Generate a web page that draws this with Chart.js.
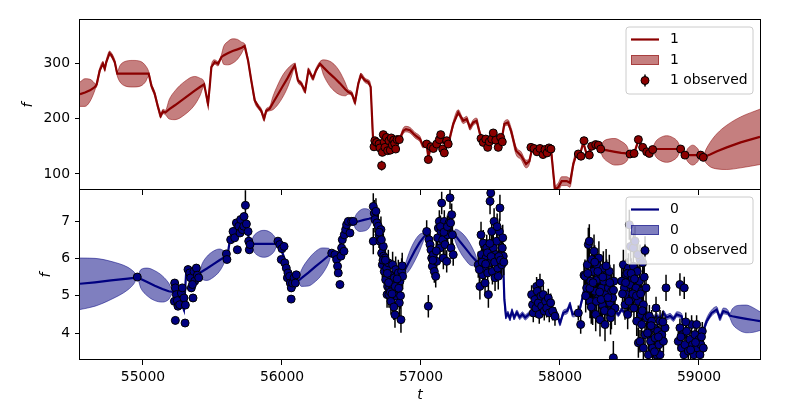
<!DOCTYPE html>
<html>
<head>
<meta charset="utf-8">
<script src="https://cdn.jsdelivr.net/npm/chart.js@4.4.0/dist/chart.umd.min.js"></script>
<style>
  body { margin: 0; background: #fff; }
  #wrap { position: relative; width: 800px; height: 400px; }
  canvas { position: absolute; left: 0; top: 0; }
</style>
</head>
<body>
<div id="wrap">
  <canvas id="bottomChart" width="800" height="400"></canvas>
  <canvas id="topChart" width="800" height="400"></canvas>
</div>
<script>
// shared time axis
const tMin = 54547, tMax = 59439;
const tTicks = [55000, 56000, 57000, 58000, 59000];
const f1Ticks = [100, 200, 300];
const f0Ticks = [4, 5, 6, 7];

// output "1": GP fit rows [t, mean, sd]
const fit1 = [
  [54547,244,22],[54583,247,25],[54619,251,20],[54648,256,9],[54658,258,4],[54667,262,4],
  [54689,287,4],[54712,299,4],[54725,290,4],[54736,302,4],[54760,318,4],[54772,315,4],
  [54797,302,4],[54815,281,4],[54835,281,15],[54870,281,22],[54928,281,24],[54985,281,22],
  [55020,281,14],[55041,281,4],[55060,260,4],[55084,245,4],[55108,221,4],[55127,205,4],
  [55144,213,4],[55161,211,4],[55190,217,18],[55230,224,26],[55300,237,30],[55370,250,26],
  [55410,257,16],[55440,262,4],[55468,227,4],[55480,257,4],[55492,293,4],[55516,302,4],
  [55540,299,4],[55564,311,4],[55580,314,16],[55610,318,21],[55645,322,22],[55680,325,18],
  [55710,328,10],[55731,331,4],[55756,305,4],[55779,269,4],[55804,233,4],[55828,222,4],
  [55851,214,4],[55871,200,4],[55887,214,4],[55912,218,4],[55935,228,12],[55970,243,18],
  [56002,257,20],[56040,273,17],[56070,287,10],[56092,296,4],[56115,269,4],[56139,263,4],
  [56166,250,4],[56191,287,4],[56223,273,4],[56245,287,4],[56274,299,4],[56300,292,14],
  [56340,282,22],[56375,274,24],[56415,264,21],[56455,253,12],[56477,248,4],[56502,245,4],
  [56525,230,4],[56549,263,4],[56568,278,4],[56597,269,4],[56621,266,4],[56638,257,4],
  [56657,154,3],[56680,157,3],[56720,152,3],[56760,155,3],[56800,156,3],[56844,162,3],
  [56873,178,5],[56892,181,5],[56921,179,5],[56957,170,5],[56993,163,5],[57015,151,4],
  [57041,152,3],[57053,130,3],[57072,150,3],[57100,152,3],[57140,158,3],[57196,155,3],
  [57232,190,5],[57268,211,5],[57304,196,5],[57329,199,5],[57353,184,5],[57376,193,5],
  [57400,196,5],[57424,173,4],[57450,160,3],[57490,158,3],[57530,163,3],[57560,158,3],
  [57580,162,3],[57600,190,5],[57625,193,5],[57648,178,6],[57684,142,7],[57720,133,7],
  [57756,118,7],[57780,123,5],[57800,146,3],[57840,144,3],[57880,142,3],[57935,145,3],
  [57964,72,6],[57988,76,8],[58012,87,8],[58048,87,8],[58072,84,8],[58096,118,6],
  [58120,136,4],[58144,136,3],[58168,156,3],[58192,136,3],[58216,142,3],[58240,151,3],
  [58288,145,3],[58310,144,14],[58350,142,21],[58396,140,24],[58440,138,21],[58480,137,14],
  [58504,136,3],[58533,137,3],[58564,160,3],[58595,148,3],[58624,140,3],[58643,137,3],
  [58667,145,3],[58690,145,14],[58725,145,21],[58768,145,24],[58810,145,21],[58845,145,14],
  [58868,145,3],[58899,134,3],[58920,134,12],[58955,134,18],[58990,134,12],[59012,134,3],
  [59031,130,3],[59050,132,12],[59080,135,22],[59130,141,32],[59200,148,40],[59300,157,46],
  [59439,167,50]
];

// output "1": observations [t, f, err]
const obs1 = [
  [56662,149,3],[56668,160,3],[56681,157,3],[56698,154,3],[56705,147,3],[56717,115,9],
  [56722,139,3],[56729,171,3],[56735,158,3],[56741,148,3],[56751,166,3],[56760,142,3],
  [56770,160,3],[56779,143,3],[56786,165,3],[56794,152,3],[56804,161,3],[56811,155,3],
  [56818,145,3],[56828,162,3],[56844,162,3],
  [57041,154,3],[57053,126,4],[57072,149,3],[57089,146,3],[57113,154,3],[57132,162,3],
  [57142,171,3],[57156,145,3],[57168,138,3],[57185,160,3],[57196,154,3],
  [57432,164,3],[57448,157,3],[57466,163,3],[57480,148,3],[57491,158,3],[57509,163,3],
  [57520,174,3],[57538,161,3],[57556,148,3],[57573,166,3],[57585,158,3],
  [57791,148,3],[57813,146,3],[57835,140,3],[57856,146,3],[57878,135,3],[57892,144,3],
  [57907,138,3],[57921,147,3],[57935,145,3],
  [58132,136,3],[58151,132,3],[58173,160,3],[58211,134,3],[58228,150,3],[58257,153,3],
  [58276,152,3],[58293,145,3],[58504,136,3],[58533,137,3],[58564,162,3],[58595,148,3],
  [58624,140,3],[58643,137,3],[58667,144,3],[58868,145,3],[58899,134,3],[59012,134,3],
  [59031,130,3]
];

// output "0": GP fit rows [t, mean, sd]
const fit0 = [
  [54547,5.32,0.69],[54655,5.36,0.64],[54770,5.41,0.51],[54892,5.46,0.30],[54935,5.48,0.16],
  [54959,5.50,0.04],[54985,5.45,0.25],[55030,5.37,0.37],[55085,5.27,0.40],[55140,5.18,0.35],
  [55185,5.12,0.22],[55215,5.10,0.04],[55252,4.99,0.05],[55276,4.85,0.05],[55295,4.63,0.05],
  [55312,5.70,0.05],[55336,5.65,0.05],[55360,5.52,0.05],[55384,5.55,0.05],[55408,5.61,0.04],
  [55425,5.65,0.20],[55460,5.73,0.32],[55505,5.84,0.35],[55550,5.95,0.30],[55580,6.02,0.18],
  [55600,6.06,0.04],[55604,5.97,0.04],[55624,6.46,0.05],[55648,6.77,0.05],[55672,6.86,0.05],
  [55708,7.04,0.05],[55732,7.12,0.05],[55744,6.90,0.05],[55761,6.55,0.05],[55775,6.39,0.04],
  [55795,6.39,0.20],[55830,6.39,0.32],[55870,6.39,0.36],[55910,6.39,0.32],[55945,6.39,0.20],
  [55966,6.39,0.04],[55995,6.23,0.05],[56020,5.97,0.05],[56043,5.65,0.05],[56067,5.30,0.05],
  [56087,5.21,0.05],[56103,5.30,0.05],[56115,5.39,0.04],[56140,5.47,0.22],[56190,5.62,0.36],
  [56240,5.78,0.40],[56290,5.93,0.35],[56335,6.07,0.20],[56358,6.14,0.04],[56381,6.10,0.05],
  [56405,5.97,0.05],[56417,6.32,0.05],[56429,6.55,0.05],[56453,6.72,0.05],[56477,6.95,0.05],
  [56513,6.95,0.04],[56530,6.97,0.18],[56560,7.00,0.28],[56590,7.03,0.30],[56625,7.06,0.25],
  [56657,7.10,0.04],[56670,7.20,0.05],[56681,6.90,0.05],[56705,6.46,0.05],[56729,6.01,0.05],
  [56753,5.74,0.05],[56777,5.48,0.05],[56801,5.39,0.05],[56825,5.48,0.05],[56849,5.56,0.05],
  [56873,5.61,0.04],[56890,5.73,0.15],[56920,5.95,0.25],[56955,6.20,0.27],[56990,6.42,0.22],
  [57015,6.55,0.12],[57034,6.63,0.04],[57058,6.46,0.05],[57077,6.10,0.05],[57101,6.10,0.05],
  [57125,6.55,0.05],[57149,6.90,0.05],[57173,6.85,0.05],[57209,6.90,0.05],[57232,6.68,0.04],
  [57250,6.60,0.18],[57285,6.43,0.28],[57322,6.26,0.31],[57360,6.08,0.27],[57390,5.96,0.16],
  [57412,5.88,0.04],[57430,5.92,0.05],[57470,6.00,0.05],[57520,6.12,0.05],[57560,6.15,0.05],
  [57590,6.00,0.05],[57600,4.90,0.06],[57612,4.45,0.07],[57625,4.52,0.07],[57640,4.40,0.07],
  [57655,4.58,0.07],[57670,4.42,0.07],[57690,4.55,0.07],[57710,4.43,0.07],[57730,4.50,0.07],
  [57750,4.42,0.07],[57770,4.48,0.07],[57790,4.55,0.06],[57830,4.60,0.05],[57880,4.62,0.05],
  [57930,4.55,0.05],[57976,4.54,0.06],[58000,4.27,0.07],[58024,4.54,0.07],[58052,4.59,0.07],
  [58072,4.76,0.07],[58091,4.50,0.07],[58120,4.54,0.07],[58144,4.67,0.07],[58180,5.21,0.06],
  [58200,5.10,0.05],[58250,4.95,0.05],[58300,4.80,0.05],[58350,4.65,0.05],[58397,4.59,0.05],
  [58420,4.50,0.06],[58444,4.63,0.06],[58468,4.54,0.06],[58500,4.68,0.05],[58550,4.65,0.05],
  [58600,4.55,0.05],[58648,4.50,0.06],[58672,4.40,0.07],[58696,4.46,0.07],[58720,4.38,0.07],
  [58744,4.54,0.07],[58768,4.42,0.07],[58792,4.46,0.07],[58816,4.38,0.07],[58840,4.50,0.07],
  [58876,4.45,0.07],[58887,4.14,0.07],[58935,3.70,0.06],[58990,3.60,0.06],[59007,3.72,0.06],
  [59031,4.05,0.07],[59055,4.32,0.08],[59091,4.54,0.08],[59127,4.63,0.08],[59151,4.41,0.08],
  [59175,4.59,0.08],[59211,4.54,0.06],[59220,4.47,0.04],[59240,4.45,0.20],[59280,4.42,0.32],
  [59340,4.38,0.37],[59390,4.35,0.33],[59439,4.32,0.25]
];

// output "0": observations [t, f, err]
const obs0 = [
  [54959,5.50,0.08],
  [55228,5.34,0.1],[55233,5.21,0.1],[55240,5.03,0.1],[55226,4.85,0.1],[55247,4.87,0.1],
  [55252,4.72,0.1],[55264,4.76,0.1],[55276,5.07,0.1],[55283,5.21,0.1],[55295,4.94,0.1],
  [55305,4.75,0.1],[55233,4.34,0.1],[55303,4.27,0.1],[55324,5.70,0.1],[55336,5.61,0.1],
  [55343,5.48,0.1],[55348,5.21,0.1],[55360,4.94,0.1],[55367,5.65,0.1],[55372,5.39,0.1],
  [55384,5.74,0.1],[55391,5.55,0.1],[55401,5.48,0.1],[55356,5.30,0.1],
  [55600,6.12,0.08],[55604,5.97,0.08],[55631,6.50,0.08],[55648,6.72,0.08],[55660,6.55,0.08],
  [55672,6.95,0.08],[55679,6.23,0.08],[55689,6.86,0.08],[55698,6.68,0.08],[55703,7.04,0.08],
  [55715,6.77,0.08],[55725,6.86,0.08],[55727,7.12,0.08],[55737,7.42,0.4],[55744,6.92,0.08],
  [55756,6.72,0.08],[55761,6.46,0.08],[55765,6.23,0.08],[55770,6.37,0.08],
  [55971,6.46,0.07],[55984,6.37,0.07],[55995,5.97,0.07],[56000,6.26,0.07],[56015,6.32,0.07],
  [56020,5.88,0.07],[56031,5.74,0.07],[56039,5.48,0.07],[56043,5.61,0.07],[56055,5.52,0.07],
  [56060,5.34,0.07],[56066,4.91,0.07],[56067,5.21,0.07],[56076,5.34,0.07],[56087,5.48,0.07],
  [56096,5.34,0.07],[56103,5.56,0.07],
  [56358,6.14,0.07],[56381,6.10,0.07],[56393,5.97,0.07],[56400,5.79,0.07],[56405,5.61,0.07],
  [56417,5.30,0.07],[56424,6.06,0.07],[56429,6.28,0.07],[56434,6.50,0.07],[56446,6.19,0.07],
  [56448,6.63,0.07],[56458,6.77,0.07],[56465,6.90,0.07],[56477,6.99,0.07],[56489,6.68,0.07],
  [56501,6.99,0.07],[56513,6.99,0.07],
  [56657,7.39,0.35],[56664,7.21,0.35],[56669,7.04,0.35],[56657,6.46,0.35],[56676,7.26,0.35],
  [56683,6.95,0.35],[56693,6.86,0.35],[56698,6.63,0.35],[56705,6.46,0.35],[56712,6.77,0.35],
  [56717,6.14,0.35],[56722,5.83,0.35],[56729,6.32,0.35],[56731,6.06,0.35],[56736,5.65,0.35],
  [56741,6.01,0.35],[56746,5.43,0.35],[56753,5.74,0.35],[56756,5.03,0.35],[56760,5.25,0.35],
  [56765,5.88,0.35],[56770,5.03,0.35],[56775,5.21,0.35],[56777,5.56,0.35],[56784,4.85,0.35],
  [56789,5.30,0.35],[56796,5.83,0.35],[56801,5.12,0.35],[56808,5.48,0.35],[56813,4.49,0.35],
  [56818,5.70,0.35],[56825,4.99,0.35],[56832,5.30,0.35],[56837,5.61,0.35],[56844,4.81,0.35],
  [56849,5.39,0.35],[56856,4.36,0.35],[56861,5.65,0.35],[56868,5.52,0.35],
  [56700,6.70,0.35],[56715,6.50,0.35],[56727,5.95,0.35],[56744,5.95,0.35],[56758,5.60,0.35],
  [56767,5.35,0.35],[56780,5.10,0.35],[56792,5.05,0.35],[56805,4.70,0.35],[56815,5.25,0.35],
  [56828,5.45,0.35],[56840,5.20,0.35],[56853,5.00,0.35],[56865,5.80,0.35],
  [57041,6.72,0.3],[57053,4.72,0.3],[57058,6.50,0.3],[57065,6.37,0.3],[57072,6.23,0.3],
  [57077,6.01,0.3],[57082,5.79,0.3],[57089,6.10,0.3],[57096,5.65,0.3],[57106,5.52,0.3],
  [57113,5.92,0.3],[57120,6.55,0.3],[57125,6.81,0.3],[57132,6.99,0.3],[57137,6.28,0.3],
  [57144,6.72,0.3],[57149,7.48,0.3],[57156,6.50,0.3],[57161,6.01,0.3],[57168,6.99,0.3],
  [57173,6.37,0.3],[57180,6.77,0.3],[57185,5.92,0.3],[57192,6.63,0.3],[57202,6.95,0.3],
  [57209,7.62,0.3],[57216,6.28,0.3],[57221,7.17,0.3],[57226,6.63,0.3],[57232,6.10,0.3],
  [57085,5.95,0.3],[57110,6.20,0.3],[57140,6.85,0.3],[57165,6.70,0.3],[57190,6.85,0.3],
  [57213,6.95,0.3],
  [57412,5.83,0.35],[57424,5.25,0.35],[57432,6.63,0.35],[57436,6.10,0.35],[57444,5.56,0.35],
  [57448,6.41,0.35],[57456,5.74,0.35],[57461,5.34,0.35],[57468,6.01,0.35],[57473,6.28,0.35],
  [57480,5.61,0.35],[57485,5.03,0.35],[57490,5.88,0.35],[57497,7.53,0.35],[57502,7.75,0.35],
  [57509,6.72,0.35],[57514,5.65,0.35],[57520,6.28,0.35],[57526,6.99,0.35],[57533,5.48,0.35],
  [57538,6.10,0.35],[57545,6.46,0.35],[57552,5.74,0.35],[57556,5.52,0.35],[57564,6.72,0.35],
  [57568,7.35,0.35],[57576,6.10,0.35],[57581,5.83,0.35],[57585,6.28,0.35],[57592,6.06,0.35],
  [57420,5.70,0.35],[57440,5.90,0.35],[57465,5.85,0.35],[57478,6.15,0.35],[57495,6.40,0.35],
  [57505,6.05,0.35],[57530,5.90,0.35],[57548,6.85,0.35],[57560,6.05,0.35],[57572,5.95,0.35],
  [57588,6.55,0.35],[57596,5.90,0.35],
  [57796,5.03,0.25],[57803,4.76,0.25],[57808,4.54,0.25],[57820,4.90,0.25],[57827,4.67,0.25],
  [57832,5.25,0.25],[57837,5.12,0.25],[57844,4.81,0.25],[57851,4.50,0.25],[57856,5.34,0.25],
  [57863,4.99,0.25],[57868,4.72,0.25],[57880,5.03,0.25],[57887,4.59,0.25],[57897,4.85,0.25],
  [57904,4.67,0.25],[57916,4.94,0.25],[57923,4.54,0.25],[57933,4.81,0.25],[57947,4.59,0.25],
  [57964,4.45,0.25],
  [58132,4.54,0.2],[58149,4.23,0.25],[58173,5.55,0.3],
  [58180,5.52,0.45],[58192,5.21,0.45],[58197,5.83,0.45],[58204,6.37,0.45],[58211,6.46,0.45],
  [58216,4.85,0.45],[58221,5.39,0.45],[58228,5.97,0.45],[58235,4.67,0.45],[58240,5.65,0.45],
  [58245,6.19,0.45],[58252,5.12,0.45],[58257,4.50,0.45],[58264,5.83,0.45],[58268,5.43,0.45],
  [58276,4.94,0.45],[58280,6.01,0.45],[58288,4.36,0.45],[58292,5.57,0.45],[58300,5.21,0.45],
  [58304,4.76,0.45],[58312,5.74,0.45],[58316,5.39,0.45],[58324,4.23,0.45],[58328,5.03,0.45],
  [58336,5.52,0.45],[58340,4.58,0.45],[58348,5.21,0.45],[58355,5.65,0.45],[58360,4.81,0.45],
  [58364,4.41,0.45],[58372,5.12,0.45],[58379,4.94,0.45],[58384,3.34,0.45],[58388,5.39,0.45],
  [58396,4.67,0.45],
  [58185,5.00,0.45],[58200,5.60,0.45],[58215,5.20,0.45],[58225,4.70,0.45],[58238,5.35,0.45],
  [58250,5.90,0.45],[58262,4.85,0.45],[58272,5.65,0.45],[58285,5.10,0.45],[58296,4.90,0.45],
  [58308,5.50,0.45],[58320,4.60,0.45],[58332,5.80,0.45],[58345,4.95,0.45],[58358,5.35,0.45],
  [58370,4.55,0.45],[58385,5.15,0.45],
  [58444,5.39,0.4],[58456,5.83,0.4],[58463,5.21,0.4],[58468,4.76,0.4],[58475,5.57,0.4],
  [58480,5.03,0.4],[58487,4.50,0.4],[58492,5.74,0.4],[58499,6.90,0.4],[58504,5.30,0.4],
  [58508,6.32,0.4],[58516,4.94,0.4],[58520,5.48,0.4],[58528,5.79,0.4],[58528,6.28,0.4],
  [58532,4.67,0.4],[58540,6.46,0.4],[58547,5.21,0.4],[58552,4.32,0.4],[58556,5.65,0.4],
  [58564,4.85,0.4],[58564,3.74,0.4],[58571,5.39,0.4],[58576,5.97,0.4],[58583,4.50,0.4],
  [58588,5.12,0.4],[58595,5.88,0.4],[58600,4.76,0.4],[58612,6.19,0.4],[58619,5.21,0.4],
  [58450,5.05,0.4],[58472,5.35,0.4],[58485,5.60,0.4],[58496,4.85,0.4],[58512,5.60,0.4],
  [58524,5.05,0.4],[58536,5.45,0.4],[58550,5.00,0.4],[58560,6.10,0.4],[58580,5.05,0.4],
  [58592,4.60,0.4],[58606,5.50,0.4],
  [58576,3.78,0.3],[58588,4.23,0.3],[58600,3.60,0.3],[58612,3.96,0.3],[58624,4.41,0.3],
  [58636,3.42,0.3],[58643,4.05,0.3],[58643,4.45,0.3],[58652,3.78,0.3],[58660,4.32,0.3],
  [58667,3.60,0.3],[58676,4.14,0.3],[58684,3.87,0.3],[58691,4.67,0.3],[58696,3.42,0.3],
  [58703,4.05,0.3],[58712,3.69,0.3],[58720,4.32,0.3],[58720,3.42,0.3],[58732,3.96,0.3],
  [58744,3.78,0.3],[58756,4.14,0.3],[58763,5.21,0.35],
  [58630,4.00,0.3],[58655,4.20,0.3],[58680,3.50,0.3],[58708,3.90,0.3],[58740,4.30,0.3],
  [58863,5.30,0.3],[58894,5.21,0.3],
  [58851,3.78,0.25],[58863,4.14,0.25],[58875,3.60,0.25],[58882,3.96,0.25],[58892,3.42,0.25],
  [58899,3.69,0.25],[58911,4.05,0.25],[58923,3.52,0.25],[58935,3.83,0.25],[58947,4.23,0.25],
  [58954,3.69,0.25],[58964,3.42,0.25],[58971,3.96,0.25],[58983,4.23,0.25],[58990,3.60,0.25],
  [59000,3.83,0.25],[59007,3.42,0.25],[59014,3.69,0.25],[59024,4.05,0.25],[59031,3.60,0.25],
  [58870,3.90,0.25],[58905,4.30,0.25],[58940,3.55,0.25],[58975,3.75,0.25],[59018,3.90,0.25]
];

Chart.defaults.font.family = "'DejaVu Sans', sans-serif";
Chart.defaults.font.size = 13.9;
Chart.defaults.color = '#000';

// vertical error bars under the observation markers
const errorBars = {
  id: 'errorBars',
  beforeDatasetDraw(chart, args) {
    const ds = chart.data.datasets[args.index];
    if (!ds.errorBars) return;
    const { ctx, chartArea: a } = chart;
    const y = chart.scales.y;
    ctx.save();
    ctx.beginPath();
    ctx.rect(a.left, a.top, a.width, a.height);
    ctx.clip();
    ctx.strokeStyle = '#000';
    ctx.lineWidth = 1.5;
    ctx.beginPath();
    args.meta.data.forEach((p, i) => {
      const d = ds.data[i];
      ctx.moveTo(p.x, y.getPixelForValue(d.y + d.e));
      ctx.lineTo(p.x, y.getPixelForValue(d.y - d.e));
    });
    ctx.stroke();
    ctx.restore();
  }
};

// axes frame, axis titles and matplotlib-like legend
const decor = {
  id: 'decor',
  afterDraw(chart, args, opts) {
    const { ctx, chartArea: a } = chart;
    const ds = chart.data.datasets;
    ctx.save();
    ctx.strokeStyle = '#000';
    ctx.lineWidth = 1;
    ctx.strokeRect(a.left - 0.5, a.top - 0.5, a.width + 1, a.height);

    ctx.fillStyle = '#000';
    ctx.font = "italic 13.9px 'DejaVu Sans'";
    ctx.textAlign = 'center';
    ctx.textBaseline = 'middle';
    ctx.save();
    ctx.translate(opts.ylabelX, (a.top + a.bottom) / 2);
    ctx.rotate(-Math.PI / 2);
    ctx.fillText('f', 0, 0);
    ctx.restore();
    if (opts.xlabel) ctx.fillText(opts.xlabel, (a.left + a.right) / 2, 395);

    // legend box
    const bx = a.right - 134, by = a.top + 7, bw = 127, bh = 67, r = 3;
    ctx.beginPath();
    ctx.moveTo(bx + r, by);
    ctx.arcTo(bx + bw, by, bx + bw, by + bh, r);
    ctx.arcTo(bx + bw, by + bh, bx, by + bh, r);
    ctx.arcTo(bx, by + bh, bx, by, r);
    ctx.arcTo(bx, by, bx + bw, by, r);
    ctx.closePath();
    ctx.fillStyle = 'rgba(255,255,255,0.8)';
    ctx.fill();
    ctx.strokeStyle = '#cccccc';
    ctx.stroke();

    const rows = [by + 12.5, by + 33, by + 53.5];
    ctx.strokeStyle = ds[2].borderColor;
    ctx.lineWidth = 2.2;
    ctx.beginPath();
    ctx.moveTo(bx + 5, rows[0]);
    ctx.lineTo(bx + 33, rows[0]);
    ctx.stroke();

    ctx.fillStyle = ds[1].backgroundColor;
    ctx.fillRect(bx + 5, rows[1] - 5, 28, 10);
    ctx.strokeStyle = ds[1].borderColor;
    ctx.lineWidth = 1;
    ctx.strokeRect(bx + 5.5, rows[1] - 4.5, 27, 9);

    ctx.strokeStyle = '#000';
    ctx.lineWidth = 1.5;
    ctx.beginPath();
    ctx.moveTo(bx + 19, rows[2] - 6);
    ctx.lineTo(bx + 19, rows[2] + 6);
    ctx.stroke();
    ctx.beginPath();
    ctx.arc(bx + 19, rows[2], 4, 0, Math.PI * 2);
    ctx.fillStyle = ds[3].pointBackgroundColor;
    ctx.fill();
    ctx.lineWidth = 1;
    ctx.stroke();

    ctx.fillStyle = '#000';
    ctx.font = "13.9px 'DejaVu Sans'";
    ctx.textAlign = 'left';
    [ds[2].label, ds[1].label, ds[3].label].forEach((t, i) => ctx.fillText(t, bx + 44, rows[i]));
    ctx.restore();
  }
};

function panel(id, o) {
  const mean = o.fit.map(r => ({ x: r[0], y: r[1] }));
  const upper = o.fit.map(r => ({ x: r[0], y: r[1] + r[2] }));
  const lower = o.fit.map(r => ({ x: r[0], y: r[1] - r[2] }));
  const pts = o.obs.map(r => ({ x: r[0], y: r[1], e: r[2] }));
  return new Chart(document.getElementById(id), {
    type: 'line',
    data: {
      datasets: [
        { label: o.name, data: upper, borderColor: o.band, borderWidth: 1, pointRadius: 0,
          fill: false, cubicInterpolationMode: 'monotone', order: 3 },
        { label: o.name, data: lower, borderColor: o.band, backgroundColor: o.band, borderWidth: 1,
          pointRadius: 0, fill: '-1', cubicInterpolationMode: 'monotone', order: 3 },
        { label: o.name, data: mean, borderColor: o.color, borderWidth: 2.2, pointRadius: 0,
          fill: false, order: 2 },
        { label: o.name + ' observed', data: pts, showLine: false, errorBars: true,
          pointRadius: 4, pointBackgroundColor: o.color, pointBorderColor: '#000',
          pointBorderWidth: 1, order: 1 }
      ]
    },
    options: {
      responsive: false,
      animation: false,
      layout: { padding: { left: 0, right: 40, top: o.top, bottom: 0 } },
      plugins: {
        legend: { display: false },
        tooltip: { enabled: false },
        decor: { ylabelX: o.ylabelX, xlabel: o.xlabel }
      },
      scales: {
        x: {
          type: 'linear', min: tMin, max: tMax,
          afterBuildTicks: s => { s.ticks = tTicks.map(v => ({ value: v })); },
          afterFit: s => { s.height = o.xh; },
          grid: { drawOnChartArea: false, color: '#000', tickLength: 5, lineWidth: 1 },
          border: { display: false },
          ticks: { display: o.xTickLabels, padding: 4, maxRotation: 0, autoSkip: false,
                   callback: v => String(v) }
        },
        y: {
          min: o.yMin, max: o.yMax,
          afterBuildTicks: s => { s.ticks = o.yTicks.map(v => ({ value: v })); },
          afterFit: s => { s.width = 80; },
          grid: { drawOnChartArea: false, color: '#000', tickLength: 5, lineWidth: 1 },
          border: { display: false },
          ticks: { padding: 5, callback: v => String(v) }
        }
      }
    },
    plugins: [errorBars, decor]
  });
}

panel('bottomChart', {
  name: '0', fit: fit0, obs: obs0, color: '#000080', band: 'rgba(0,0,128,0.5)',
  yMin: 3.28, yMax: 7.83, yTicks: f0Ticks, top: 190, xh: 40, xTickLabels: true,
  ylabelX: 46, xlabel: 't'
});
panel('topChart', {
  name: '1', fit: fit1, obs: obs1, color: '#8b0000', band: 'rgba(139,0,0,0.5)',
  yMin: 71, yMax: 378, yTicks: f1Ticks, top: 20, xh: 210, xTickLabels: false,
  ylabelX: 28, xlabel: ''
});
</script>
</body>
</html>
